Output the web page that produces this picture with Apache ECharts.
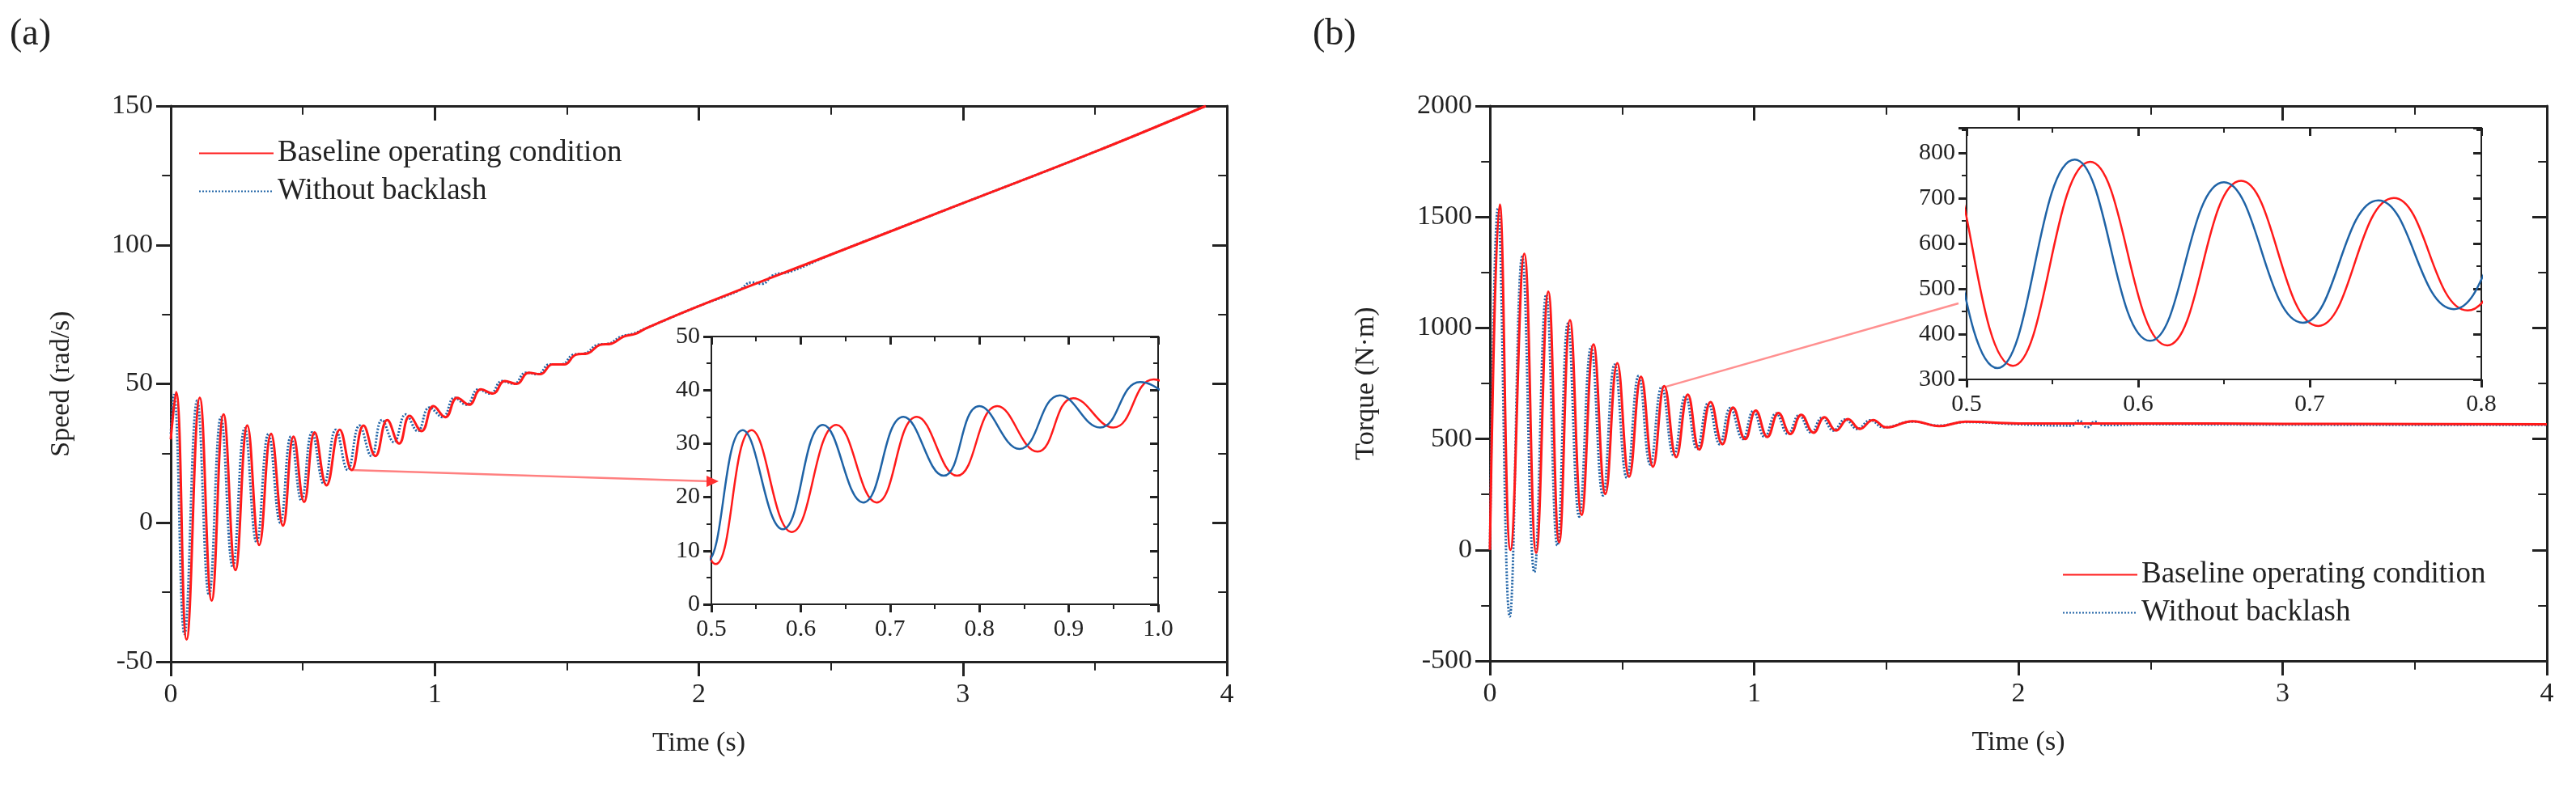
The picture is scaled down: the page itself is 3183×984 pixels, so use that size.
<!DOCTYPE html>
<html>
<head>
<meta charset="utf-8">
<script src="https://cdn.jsdelivr.net/npm/echarts@6/dist/echarts.min.js"></script>
<style>
  html, body { margin: 0; padding: 0; background: #fff; }
  #chart { width: 3183px; height: 984px; }
</style>
</head>
<body>
<div id="chart"></div>
<script>
// ---------------------------------------------------------------------------
// Data: [time (s), value] at peaks / troughs / ramp points
// ---------------------------------------------------------------------------
var speedBaseline = [
    [0, 30], [0.02, 47], [0.06, -42], [0.11, 45], [0.155, -28], [0.2, 39], [0.245, -17],
    [0.29, 35], [0.335, -8], [0.38, 32], [0.425, -1], [0.465, 31], [0.505, 7.5],
    [0.545, 32.5], [0.59, 13.5], [0.64, 33.5], [0.685, 19], [0.73, 35], [0.775, 24],
    [0.82, 37], [0.865, 28.5], [0.905, 38.5], [0.95, 33], [0.995, 42], [1.04, 38],
    [1.085, 45], [1.13, 42.5], [1.175, 48], [1.22, 46.5], [1.265, 51], [1.31, 50],
    [1.355, 54], [1.4, 53.5], [1.445, 57], [1.49, 57], [1.535, 60.5], [1.58, 61],
    [1.625, 64], [1.67, 64.5], [1.715, 67], [1.76, 68], [1.8, 70], [2, 78],
    [2.5, 96.5], [3, 115], [3.5, 133.5], [3.92, 150]
];
var speedNoBacklash = [
    [0, 32], [0.012, 46], [0.052, -40], [0.1, 44], [0.145, -26], [0.19, 38], [0.235, -16],
    [0.28, 34], [0.325, -7], [0.37, 32], [0.415, 0], [0.455, 31], [0.495, 8],
    [0.535, 32.5], [0.58, 14], [0.625, 33.5], [0.67, 19], [0.715, 35], [0.76, 24],
    [0.8, 37], [0.845, 29], [0.89, 39], [0.935, 33], [0.98, 41.5], [1.03, 38],
    [1.075, 45], [1.12, 42.5], [1.165, 48], [1.21, 46.5], [1.255, 51], [1.3, 50],
    [1.345, 54], [1.39, 53.5], [1.435, 57], [1.48, 57], [1.525, 60.5], [1.57, 61],
    [1.615, 64], [1.66, 64.5], [1.705, 67], [1.75, 68], [1.8, 70], [2, 78],
    [2.15, 83.5], [2.2, 86.5], [2.24, 86], [2.28, 89], [2.35, 90.5],
    [2.5, 96.5], [3, 115], [3.5, 133.5], [3.92, 150]
];
var torqueBaseline = [
    [0, 0], [0.037, 1555], [0.078, 0], [0.13, 1334], [0.175, -13], [0.221, 1164],
    [0.262, 34], [0.303, 1035], [0.347, 158], [0.392, 926], [0.437, 252], [0.482, 841],
    [0.527, 330], [0.572, 780], [0.617, 375], [0.66, 738], [0.705, 418], [0.749, 700],
    [0.792, 452], [0.835, 666], [0.88, 476], [0.92, 642], [0.966, 499], [1.006, 628],
    [1.05, 509], [1.092, 617], [1.137, 522], [1.178, 609], [1.225, 528], [1.266, 598],
    [1.31, 538], [1.355, 590], [1.4, 545], [1.45, 585], [1.5, 552], [1.6, 580],
    [1.7, 558], [1.8, 578], [2, 570], [2.5, 570], [3, 568], [4, 566]
];
var torqueNoBacklash = [
    [0, 0], [0.03, 1540], [0.075, -300], [0.122, 1320], [0.168, -100], [0.213, 1150],
    [0.255, 20], [0.295, 1020], [0.338, 150], [0.383, 915], [0.428, 245], [0.472, 835],
    [0.518, 325], [0.563, 785], [0.607, 385], [0.65, 735], [0.696, 425], [0.74, 695],
    [0.784, 455], [0.826, 662], [0.87, 476], [0.91, 640], [0.957, 499], [0.997, 626],
    [1.04, 509], [1.083, 615], [1.128, 522], [1.17, 607], [1.216, 528], [1.257, 596],
    [1.3, 538], [1.345, 588], [1.39, 545], [1.44, 584], [1.49, 552], [1.6, 578],
    [1.7, 560], [1.8, 576], [2, 566], [2.2, 560], [2.23, 582], [2.26, 552], [2.29, 578],
    [2.32, 562], [2.5, 566], [3, 564], [4, 563]
];
var legendNames = ['Baseline operating condition', 'Without backlash'];

// ---------------------------------------------------------------------------
var RED = '#ff1a1a', BLUE = '#1f63a6', FONT = 'Liberation Serif';
var chart = echarts.init(document.getElementById('chart'));

function mkX(grid, min, max, interval, opts) {
    opts = opts || {};
    var tl = opts.tl || 18;
    return {
        type: 'value', gridIndex: grid, min: min, max: max, interval: interval,
        position: opts.top ? 'top' : 'bottom',
        axisLine: { show: true, onZero: false, lineStyle: { color: '#222', width: opts.w || 3 } },
        axisTick: { show: true, inside: !!opts.top, length: tl, lineStyle: { color: '#222', width: 3 } },
        minorTick: { show: true, splitNumber: 2, length: tl * 0.6, lineStyle: { color: '#222', width: 2 } },
        axisLabel: { show: !opts.top, color: '#222', fontFamily: FONT, fontSize: opts.fs || 34, margin: tl + 6,
                     formatter: opts.fmt },
        splitLine: { show: false },
        name: opts.name, nameLocation: 'middle', nameGap: 84,
        nameTextStyle: { color: '#222', fontFamily: FONT, fontSize: 34 }
    };
}
function mkY(grid, min, max, interval, opts) {
    opts = opts || {};
    var tl = opts.tl || 18;
    return {
        type: 'value', gridIndex: grid, min: min, max: max, interval: interval,
        position: opts.right ? 'right' : 'left',
        axisLine: { show: true, onZero: false, lineStyle: { color: '#222', width: opts.w || 3 } },
        axisTick: { show: true, inside: !!opts.right, length: tl, lineStyle: { color: '#222', width: 3 } },
        minorTick: { show: true, splitNumber: 2, length: tl * 0.6, lineStyle: { color: '#222', width: 2 } },
        axisLabel: { show: !opts.right, color: '#222', fontFamily: FONT, fontSize: opts.fs || 34, margin: tl + 4,
                     showMaxLabel: opts.noMax ? false : null,
                     formatter: function (v) { return String(v); } },
        splitLine: { show: false },
        name: opts.name, nameLocation: 'middle', nameGap: opts.gap || 70,
        nameTextStyle: { color: '#222', fontFamily: FONT, fontSize: 34 }
    };
}
function line(name, data, xi, yi, blue, dotted, z) {
    return {
        name: name, type: 'line', data: data, xAxisIndex: xi, yAxisIndex: yi,
        smooth: 0.45, symbol: 'none', z: z || 2, clip: true,
        lineStyle: { color: blue ? BLUE : RED, width: dotted ? 3 : (xi >= 2 ? 2.5 : 3),
                     type: dotted ? [2, 2] : 'solid' },
        itemStyle: { color: blue ? BLUE : RED }
    };
}
var decFmt = function (v) { return v.toFixed(1); };
var legendText = { fontFamily: FONT, fontSize: 37, color: '#222' };

var option = {
    animation: false,
    backgroundColor: '#fff',
    textStyle: { fontFamily: FONT },
    grid: [
        { left: 211, top: 131, width: 1305, height: 687 },    // (a) main
        { left: 1841, top: 131, width: 1306, height: 686 },   // (b) main
        { left: 879, top: 416, width: 552, height: 331, show: true, backgroundColor: '#fff', borderWidth: 0 }, // (a) inset
        { left: 2430, top: 158, width: 636, height: 311, show: true, backgroundColor: '#fff', borderWidth: 0 }  // (b) inset
    ],
    xAxis: [
        mkX(0, 0, 4, 1, { name: 'Time (s)' }),
        mkX(1, 0, 4, 1, { name: 'Time (s)' }),
        mkX(2, 0.5, 1.0, 0.1, { fs: 30, tl: 10, w: 2, fmt: decFmt }),
        mkX(3, 0.5, 0.8, 0.1, { fs: 30, tl: 10, w: 2, fmt: decFmt }),
        mkX(0, 0, 4, 1, { top: true }),
        mkX(1, 0, 4, 1, { top: true }),
        mkX(2, 0.5, 1.0, 0.1, { top: true, tl: 10, w: 2 }),
        mkX(3, 0.5, 0.8, 0.1, { top: true, tl: 10, w: 2 })
    ],
    yAxis: [
        mkY(0, -50, 150, 50, { name: 'Speed (rad/s)', gap: 118 }),
        mkY(1, -500, 2000, 500, { name: 'Torque (N·m)', gap: 136 }),
        mkY(2, 0, 50, 10, { fs: 30, tl: 10, w: 2 }),
        mkY(3, 300, 855, 100, { fs: 30, tl: 10, w: 2, noMax: true }),
        mkY(0, -50, 150, 50, { right: true }),
        mkY(1, -500, 2000, 500, { right: true }),
        mkY(2, 0, 50, 10, { right: true, tl: 10, w: 2 }),
        mkY(3, 300, 855, 100, { right: true, tl: 10, w: 2 })
    ],
    legend: [
        { data: legendNames, left: 240, top: 166, orient: 'vertical', itemWidth: 92, itemHeight: 14, itemGap: 10,
          itemStyle: { opacity: 0 }, textStyle: legendText },
        { data: legendNames, left: 2543, top: 687, orient: 'vertical', itemWidth: 92, itemHeight: 14, itemGap: 10,
          itemStyle: { opacity: 0 }, textStyle: legendText }
    ],
    series: [
        line(legendNames[1], speedNoBacklash, 0, 0, true, true, 2),
        line(legendNames[0], speedBaseline, 0, 0, false, false, 3),
        line(legendNames[1], torqueNoBacklash, 1, 1, true, true, 2),
        line(legendNames[0], torqueBaseline, 1, 1, false, false, 3),
        line('a-inset-red', speedBaseline, 2, 2, false, false, 5),
        line('a-inset-blue', speedNoBacklash, 2, 2, true, false, 6),
        line('b-inset-red', torqueBaseline, 3, 3, false, false, 5),
        line('b-inset-blue', torqueNoBacklash, 3, 3, true, false, 6)
    ]
};
chart.setOption(option);

// panel letters and zoom connector lines
var pa = chart.convertToPixel({ gridIndex: 0 }, [0.68, 19]);
var pb = chart.convertToPixel({ gridIndex: 1 }, [0.665, 735]);
chart.setOption({
    graphic: [
        { type: 'text', left: 12, top: 20, style: { text: '(a)', font: '46px "Liberation Serif"', fill: '#222' } },
        { type: 'text', left: 1622, top: 20, style: { text: '(b)', font: '46px "Liberation Serif"', fill: '#222' } },
        { type: 'line', z: 1, shape: { x1: pa[0], y1: pa[1], x2: 878, y2: 595 },
          style: { stroke: '#ff8080', lineWidth: 2.5 } },
        { type: 'polygon', z: 7, shape: { points: [[888, 595], [873, 588], [873, 602]] }, style: { fill: '#ff3030' } },
        { type: 'line', z: 1, shape: { x1: pb[0], y1: pb[1], x2: 2420, y2: 375 },
          style: { stroke: '#ff9090', lineWidth: 2.5 } }
    ]
});
</script>
</body>
</html>
